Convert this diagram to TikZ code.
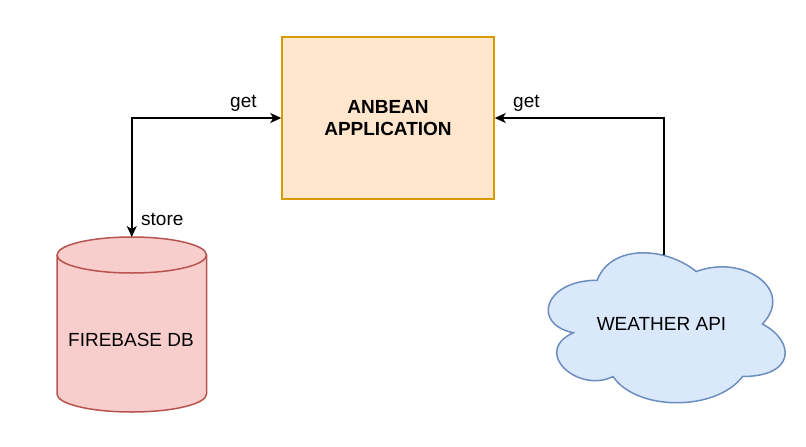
\documentclass[tikz,border=0pt]{standalone}
\usepackage{fontspec}
\setmainfont{Liberation Sans}
\usetikzlibrary{arrows.meta}
\definecolor{appfill}{HTML}{FFE6CC}
\definecolor{appdraw}{HTML}{D79B00}
\definecolor{dbfill}{HTML}{F8CECC}
\definecolor{dbdraw}{HTML}{B85450}
\definecolor{cloudfill}{HTML}{DAE8FC}
\definecolor{clouddraw}{HTML}{6C8EBF}
\tikzset{
  txt/.style={font=\fontsize{19}{22}\selectfont, inner sep=0pt},
  conn/.style={line width=1.5pt, draw=black, -{Stealth[length=11pt,width=10pt,inset=3pt]}},
  bconn/.style={line width=1.5pt, draw=black, {Stealth[length=11pt,width=10pt,inset=3pt]}-{Stealth[length=11pt,width=10pt,inset=3pt]}},
}
\begin{document}
\begin{tikzpicture}[x=1pt,y=-1pt]
\useasboundingbox (0,0) rectangle (806,447);
% application box
\node[draw=appdraw, fill=appfill, line width=1.5pt, minimum width=212pt, minimum height=162pt, inner sep=0pt,
      font=\fontsize{19}{22}\selectfont\bfseries, align=center] (app) at (388,118) {ANBEAN\\APPLICATION};
% cylinder
\path[draw=dbdraw, fill=dbfill, line width=1.5pt]
  (57,255) -- (57,394) arc[start angle=180,end angle=360,x radius=74.75pt,y radius=18pt]
  -- (206.5,255) arc[start angle=0,end angle=180,x radius=74.75pt,y radius=18pt] -- cycle;
\draw[dbdraw, line width=1.5pt] (57,255) arc[start angle=180,end angle=360,x radius=74.75pt,y radius=18pt];
\node[txt, anchor=base] (db) at (131,346.7) {FIREBASE DB};
\coordinate (dbtop) at (131.75,237);
% cloud
\begin{scope}[shift={(531,236.5)}, x=264.5pt, y=-175pt]
\path[draw=clouddraw, fill=cloudfill, line width=1.5pt]
  (0.25,0.25) .. controls (0.05,0.25) and (0,0.5) .. (0.16,0.55)
  .. controls (0,0.66) and (0.18,0.9) .. (0.31,0.8)
  .. controls (0.4,1) and (0.7,1) .. (0.8,0.8)
  .. controls (1,0.8) and (1,0.6) .. (0.875,0.5)
  .. controls (1,0.3) and (0.8,0.1) .. (0.625,0.2)
  .. controls (0.5,0.05) and (0.3,0.05) .. (0.25,0.25) -- cycle;
\end{scope}
\node[txt, anchor=base] (weather) at (661.5,330.7) {WEATHER API};
\coordinate (wtop) at (664,255);
% connectors
\draw[bconn] (dbtop) |- (app.west);
\draw[conn] (wtop) |- (app.east);
% labels
\node[txt, anchor=base west] (l1) at (230,107) {get};
\node[txt, anchor=base west] (l2) at (513,107) {get};
\node[txt, anchor=base west] (l3) at (141,225) {store};
\end{tikzpicture}
\end{document}
